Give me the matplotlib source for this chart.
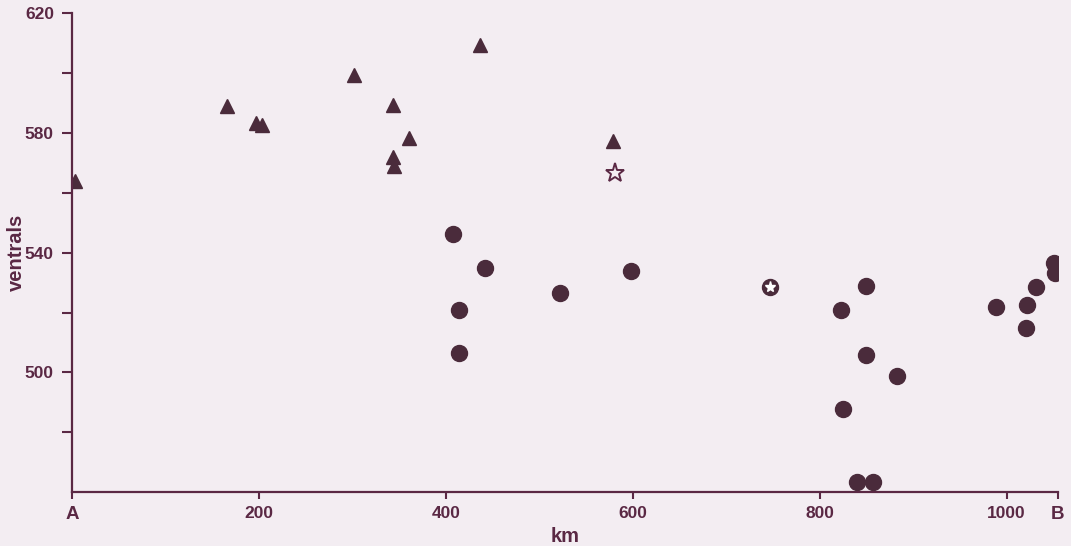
import numpy as np
import matplotlib
matplotlib.use("Agg")
import matplotlib.pyplot as plt

# km along transect A-B, ventral scale counts
tri_km = [3, 166, 197, 203, 302, 437, 344, 361, 344, 345, 579]
tri_ventrals = [564, 589, 583.4, 582.7, 599.5, 609.5, 589.4, 578.4, 572, 569, 577.5]

circ_km = [408, 442, 414, 414, 522, 598, 850, 823, 850, 883, 825, 840, 857,
           989, 1022, 1021, 1031, 1051, 1052]
circ_ventrals = [546.2, 534.8, 520.8, 506.4, 526.4, 533.9, 528.9, 521, 505.7,
                 498.8, 487.8, 463.4, 463.4, 521.7, 522.4, 515, 528.5, 536.7, 533.1]

open_star_km = [581]
open_star_ventrals = [566.6]

star_circ_km = [747]
star_circ_ventrals = [528.6]

x_ticks = [0, 200, 400, 600, 800, 1000, 1055]
x_labels = ['A', '200', '400', '600', '800', '1000', 'B']
y_ticks = [500, 540, 580, 620]
y_minor = [480, 520, 560, 600]

bg = '#f3edf2'
ink = '#4a2b3b'
axc = '#5a2844'

plt.rcParams['font.family'] = ['Liberation Sans', 'DejaVu Sans']

fig = plt.figure(figsize=(10.71, 5.46), dpi=100, facecolor=bg)
ax = fig.add_axes([0.0672, 0.0989, 0.9206, 0.8764], facecolor=bg)

ax.plot(tri_km, tri_ventrals, '^', ms=9.5, color=ink, mec=ink, ls='none')
ax.plot(circ_km, circ_ventrals, 'o', ms=11.5, color=ink, mec=ink, ls='none')
ax.plot(open_star_km, open_star_ventrals, '*', ms=14, mfc='none', mec=axc,
        mew=1.4, ls='none')
ax.plot(star_circ_km, star_circ_ventrals, 'o', ms=11.5, color=ink, mec=ink, ls='none')
ax.plot(star_circ_km, star_circ_ventrals, '*', ms=8, color='white', mec='white', ls='none')

ax.set_xlim(0, 1055)
ax.set_ylim(460, 620)

for s in ['top', 'right']:
    ax.spines[s].set_visible(False)
for s in ['left', 'bottom']:
    ax.spines[s].set_color(axc)
    ax.spines[s].set_linewidth(1.6)

ax.set_xticks(x_ticks)
ax.set_xticklabels(x_labels)
ax.set_yticks(y_ticks)
ax.set_yticks(y_minor, minor=True)

ax.tick_params(axis='y', which='both', length=7, width=1.5, color=axc,
               pad=6, labelsize=12.5, labelcolor=axc)
ax.tick_params(axis='x', which='both', length=5, width=1.5, color=axc,
               pad=5, labelsize=12.5, labelcolor=axc)
for lab in ax.get_xticklabels() + ax.get_yticklabels():
    lab.set_fontweight('bold')
for lab in ax.get_xticklabels():
    if lab.get_text() in ('A', 'B'):
        lab.set_fontsize(13.5)

ax.set_xlabel('km', fontsize=14.5, fontweight='bold', color=axc, labelpad=3)
ax.set_ylabel('ventrals', fontsize=14.5, fontweight='bold', color=axc, labelpad=-1)

fig.savefig('out.png', dpi=100, facecolor=bg)
